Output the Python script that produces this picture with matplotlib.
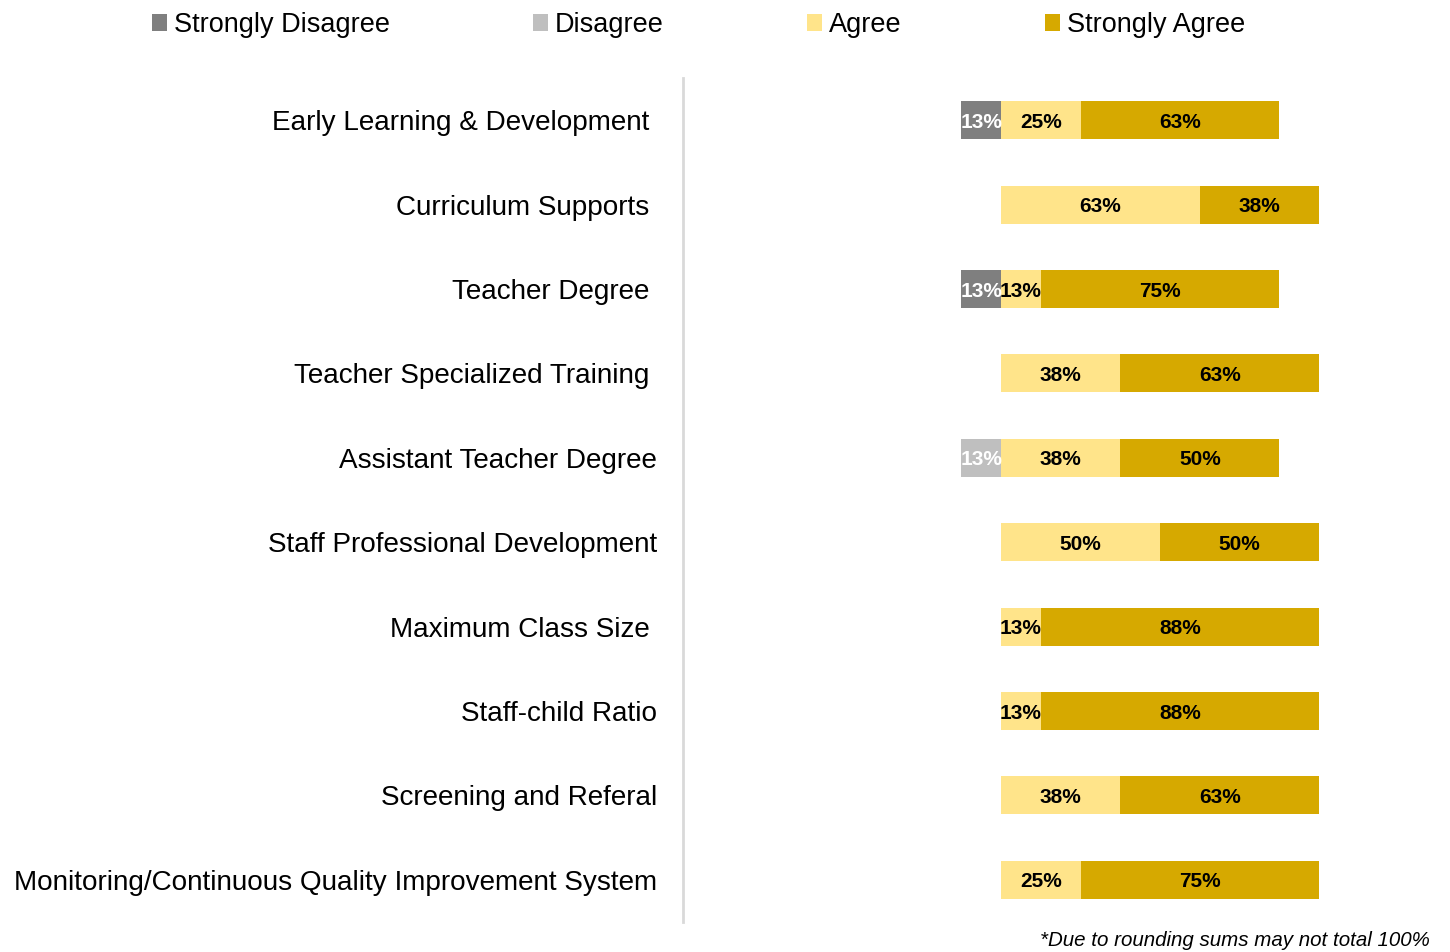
import matplotlib
matplotlib.use("Agg")
import matplotlib.pyplot as plt
import numpy as np

plt.rcParams['font.family'] = ['Liberation Sans', 'DejaVu Sans']

categories = ["Early Learning & Development ", "Curriculum Supports ", "Teacher Degree ",
              "Teacher Specialized Training ", "Assistant Teacher Degree",
              "Staff Professional Development", "Maximum Class Size ", "Staff-child Ratio",
              "Screening and Referal", "Monitoring/Continuous Quality Improvement System"]
strongly_disagree = [12.5, 0, 12.5, 0, 0, 0, 0, 0, 0, 0]
disagree = [0, 0, 0, 0, 12.5, 0, 0, 0, 0, 0]
agree = [25, 62.5, 12.5, 37.5, 37.5, 50, 12.5, 12.5, 37.5, 25]
strongly_agree = [62.5, 37.5, 75, 62.5, 50, 50, 87.5, 87.5, 62.5, 75]
series_names = ["Strongly Disagree", "Disagree", "Agree", "Strongly Agree"]
colors = ["#7f7f7f", "#bfbfbf", "#ffe48a", "#d6a900"]
label_colors = ["white", "white", "black", "black"]

fig = plt.figure(figsize=(14.5, 9.52), dpi=100)
ax = fig.add_axes([683/1450, 30/952, (1440-683)/1450, 844/952])

y = np.arange(len(categories))
sd = np.array(strongly_disagree)
d = np.array(disagree)
a = np.array(agree)
sa = np.array(strongly_agree)

# left of zero: disagree next to center, strongly disagree outside
lefts = [-(sd + d), -d, np.zeros_like(a), a]
widths = [sd, d, a, sa]

h = 0.45
for i in range(4):
    bars = ax.barh(y, widths[i], left=lefts[i], height=h, color=colors[i],
                   label=series_names[i], edgecolor='none')
    for j, b in enumerate(bars):
        v = widths[i][j]
        if v <= 0:
            continue
        ax.text(b.get_x() + b.get_width() / 2, y[j] + 0.025, "%d%%" % int(v + 0.5),
                ha='center', va='center', fontsize=15, fontweight='bold',
                color=label_colors[i])

ax.set_xlim(-100, 138)
ax.set_ylim(len(categories) - 0.5, -0.5)
ax.set_yticks(y)
ax.set_yticklabels(categories, fontsize=20.1)
ax.tick_params(axis='y', length=0, pad=18.5)
ax.set_xticks([])
for s in ['top', 'right', 'bottom']:
    ax.spines[s].set_visible(False)
ax.spines['left'].set_color('#d9d9d9')
ax.spines['left'].set_linewidth(2)

fig.legend(loc='upper left', bbox_to_anchor=(133/1450, 1 + 7/952), ncol=4, frameon=False,
           fontsize=19.5, handlelength=0.55, handleheight=0.55, handletextpad=0.25,
           columnspacing=5.3, borderaxespad=0.3)

fig.text(1430/1450, 1 - 941/952, "*Due to rounding sums may not total 100%",
         ha='right', va='center', fontsize=14.8, style='italic')

fig.savefig("out.png", dpi=100)
